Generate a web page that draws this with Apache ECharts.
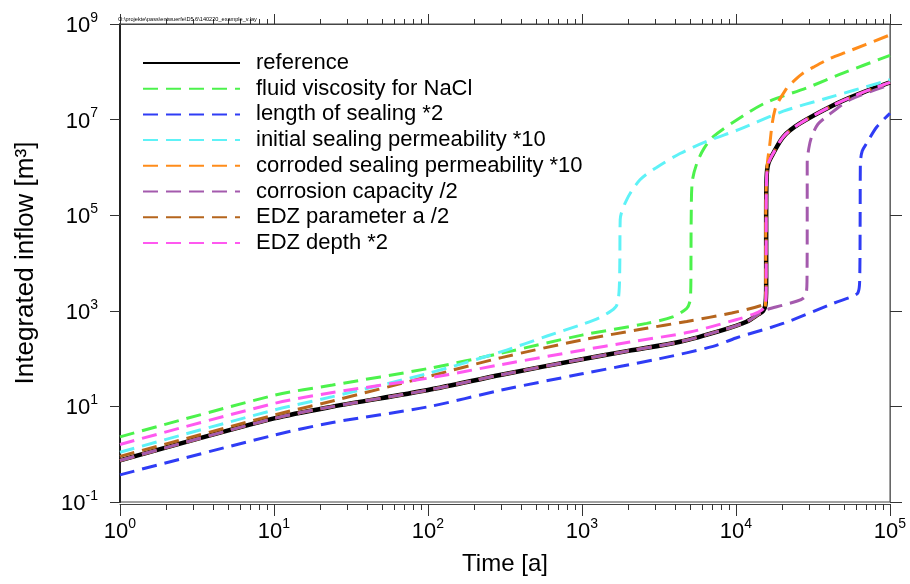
<!DOCTYPE html>
<html>
<head>
<meta charset="utf-8">
<script src="https://cdn.jsdelivr.net/npm/echarts@6/dist/echarts.min.js"></script>
<style>
html,body{margin:0;padding:0;background:#fff;}
#chart{width:910px;height:584px;}
</style>
</head>
<body>
<div id="chart"></div>
<script>
// ---- data (time [a], integrated inflow [m3]) ----
const seriesNames = [
  'reference',
  'fluid viscosity for NaCl',
  'length of sealing *2',
  'initial sealing permeability *10',
  'corroded sealing permeability *10',
  'corrosion capacity /2',
  'EDZ parameter a /2',
  'EDZ depth *2'
];
const seriesColors = ['#000000','#4cf24c','#2f3cf5','#5ef2f7','#ff8c1a','#a45aad','#b5651d','#ff59f0'];

const referenceData = [[1,0.74],[10,5.6],[24,9.9],[100,22],[300,46],[1000,97],[2000,145],[4330,225],[8280,400],[11700,590],[14000,850],[15000,1000],[15500,1300],[15700,3000],[15700,1e5],[15800,6e5],[16200,1.2e6],[17500,2e6],[20300,4.4e6],[26000,8.3e6],[42800,2e7],[60800,3.3e7],[100000,6e7]];
const viscosityData = [[1,2.3],[10,17],[24,28],[100,62],[300,130],[1000,310],[2630,545],[3920,755],[4790,1130],[5000,1500],[5080,2500],[5100,1e4],[5120,1e5],[5200,5e5],[5560,1.2e6],[6200,2.5e6],[7120,4.4e6],[10100,9.8e6],[15800,2.3e7],[28800,4.6e7],[50000,9.5e7],[100000,2.2e8]];
const lengthData = [[1,0.37],[10,2.5],[24,4.6],[100,9.8],[300,22],[1000,48],[3200,100],[7100,180],[10000,270],[20400,550],[42800,1430],[58000,2050],[62000,2400],[63500,4000],[64000,1e5],[64200,1.2e6],[66000,2.2e6],[70600,3.2e6],[82000,7e6],[100000,1.35e7]];
const initialPermData = [[1,1.1],[10,8.4],[24,16],[100,49],[300,140],[600,300],[1000,520],[1300,720],[1550,1000],[1680,1300],[1740,2500],[1760,1e4],[1770,8e4],[1950,2.1e5],[2380,5.5e5],[3050,1e6],[4330,1.95e6],[6450,3.5e6],[10600,6.3e6],[20300,1.5e7],[38700,2.8e7],[100000,6.8e7]];
const corrodedPermData = [[1,0.74],[10,5.6],[24,9.9],[100,22],[300,46],[1000,97],[2000,145],[4330,225],[8280,400],[11700,590],[14000,850],[15000,1000],[15500,1300],[15600,3000],[15600,1e5],[15900,1e6],[16450,2.5e6],[17900,1.6e7],[21300,4.5e7],[23600,6.3e7],[27200,9.3e7],[31800,1.25e8],[40800,1.9e8],[52400,2.6e8],[100000,5.9e8]];
const capacityData = [[1,0.74],[10,5.6],[24,9.9],[100,22],[300,46],[1000,97],[2000,145],[4330,225],[8280,400],[11700,590],[14000,850],[15700,1050],[20000,1300],[25000,1600],[27500,1850],[28500,2200],[28900,4000],[29000,1e5],[29000,1.2e6],[29700,2.5e6],[31000,4.4e6],[34000,8e6],[38700,1.15e7],[55000,2.6e7],[100000,5.3e7]];
const edzParamData = [[1,0.9],[10,6.6],[24,13],[100,42],[300,105],[1000,245],[2460,415],[4790,600],[9380,900],[14700,1300],[15500,1500],[15700,3000],[15700,1e5],[15800,6e5],[16200,1.2e6],[17500,2e6],[20300,4.4e6],[26000,8.3e6],[42800,2e7],[60800,3.3e7],[100000,6e7]];
const edzDepthData = [[1,1.6],[10,11.5],[24,19.5],[100,39],[300,75],[1000,150],[2000,220],[5020,360],[10000,650],[13000,850],[14500,1000],[15500,1250],[15700,3000],[15700,1e5],[15800,6e5],[16200,1.2e6],[17500,2e6],[20300,4.4e6],[26000,8.3e6],[42800,2e7],[60800,3.3e7],[100000,6e7]];

// ---- axis ticks ----
const xTickExps = [0,1,2,3,4,5];
const yTickExps = [-1,1,3,5,7,9];
const xMinorMultipliers = [2,3,4,5,6,7,8,9];
const fileLabel = 'O:\\projekte\\pass\\entwuerfe\\D5.6\\140220_example_v.lay';

const allData = [referenceData, viscosityData, lengthData, initialPermData, corrodedPermData, capacityData, edzParamData, edzDepthData];

const FONT = "'Liberation Sans', Arial, Helvetica, sans-serif";
const minorTickValues = [];
xTickExps.slice(0, -1).forEach(e => xMinorMultipliers.forEach(m => minorTickValues.push([m * Math.pow(10, e), 1])));

function expLabel(list) {
  return function (v) {
    const e = Math.round(Math.log10(v));
    return list.indexOf(e) >= 0 ? '{b|10}{s|' + e + '}' : '';
  };
}
const richSup = {
  b: { fontSize: 22, fontFamily: FONT, color: '#000', lineHeight: 26, verticalAlign: 'bottom' },
  s: { fontSize: 14, fontFamily: FONT, color: '#000', lineHeight: 14, verticalAlign: 'top' }
};

const lineSeries = seriesNames.map((name, i) => ({
  name: name,
  type: 'line',
  data: allData[i],
  showSymbol: false,
  symbol: 'none',
  smooth: 0.3,
  z: 2 + i,
  lineStyle: i === 0
    ? { color: seriesColors[i], width: 4.5, type: 'solid' }
    : { color: seriesColors[i], width: 3, type: [15, 8] },
  itemStyle: { color: seriesColors[i] },
  emphasis: { disabled: true },
  animation: false
}));

const minorTickSeries = {
  type: 'custom',
  data: minorTickValues,
  silent: true,
  animation: false,
  clip: false,
  z: 1,
  renderItem: function (params, api) {
    const p = api.coord([api.value(0), 1]);
    const cs = params.coordSys;
    const x = Math.round(p[0]) + 0.5;
    const yb = cs.y + cs.height + 2;
    const yt = cs.y;
    return {
      type: 'group',
      children: [
        { type: 'line', shape: { x1: x, y1: yb, x2: x, y2: yb + 6 }, style: { stroke: '#333', lineWidth: 1 } },
        { type: 'line', shape: { x1: x, y1: yt, x2: x, y2: yt - 5 }, style: { stroke: '#333', lineWidth: 1 } }
      ]
    };
  }
};

const chart = echarts.init(document.getElementById('chart'), null, { renderer: 'canvas' });
chart.setOption({
  animation: false,
  backgroundColor: '#ffffff',
  textStyle: { fontFamily: FONT },
  title: {
    text: fileLabel,
    left: 118, top: 16,
    padding: 0,
    textStyle: { fontSize: 5.6, fontWeight: 'normal', color: '#000', fontFamily: FONT }
  },
  grid: {
    left: 120, right: 20, top: 24, bottom: 82,
    show: true, borderColor: '#444', borderWidth: 1, backgroundColor: 'transparent'
  },
  legend: {
    data: seriesNames,
    orient: 'vertical',
    left: 142, top: 52,
    itemWidth: 97, itemHeight: 14, itemGap: 3.7,
    padding: 0,
    selectedMode: false,
    itemStyle: { opacity: 0 },
    textStyle: { fontSize: 22, color: '#000', fontFamily: FONT, lineHeight: 22, padding: [0, 0, 0, 11] }
  },
  xAxis: [
    {
      type: 'log', logBase: 10, min: 1, max: 1e5, position: 'bottom', offset: 2,
      name: 'Time [a]', nameLocation: 'middle', nameGap: 48,
      nameTextStyle: { fontSize: 24, color: '#000', fontFamily: FONT },
      axisLine: { show: true, lineStyle: { color: '#444', width: 1 } },
      axisTick: { show: true, inside: false, length: 12, lineStyle: { color: '#333' } },
      minorTick: { show: false },
      splitLine: { show: false },
      axisLabel: { margin: 13, formatter: expLabel(xTickExps), rich: richSup, color: '#000' }
    },
    {
      type: 'log', logBase: 10, min: 1, max: 1e5, position: 'top',
      axisLine: { show: true, lineStyle: { color: '#444', width: 1 } },
      axisTick: { show: true, inside: false, length: 10, lineStyle: { color: '#333' } },
      splitLine: { show: false },
      axisLabel: { show: false }
    }
  ],
  yAxis: [
    {
      type: 'log', logBase: 10, min: 0.1, max: 1e9, interval: 2, position: 'left',
      name: 'Integrated inflow [m³]', nameLocation: 'middle', nameGap: 81, nameRotate: 90,
      nameTextStyle: { fontSize: 26, color: '#000', fontFamily: FONT },
      axisLine: { show: true, lineStyle: { color: '#222', width: 2 } },
      axisTick: { show: true, inside: false, length: 10, lineStyle: { color: '#333' } },
      splitLine: { show: false },
      axisLabel: { margin: 22, formatter: expLabel(yTickExps), rich: richSup, color: '#000' }
    },
    {
      type: 'log', logBase: 10, min: 0.1, max: 1e9, interval: 2, position: 'right',
      axisLine: { show: true, lineStyle: { color: '#666', width: 1 } },
      axisTick: { show: true, inside: false, length: 12, lineStyle: { color: '#333' } },
      splitLine: { show: false },
      axisLabel: { show: false }
    }
  ],
  series: lineSeries.concat([minorTickSeries])
});
</script>
</body>
</html>
